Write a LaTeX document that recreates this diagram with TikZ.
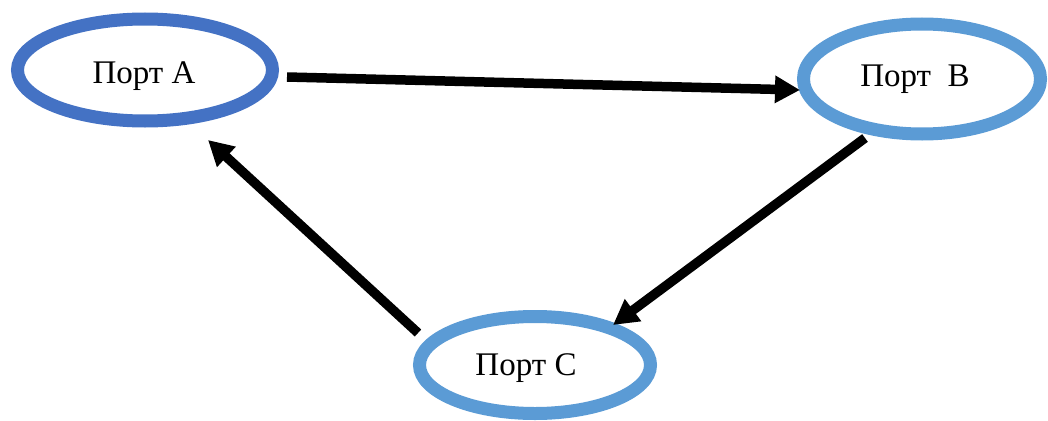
\documentclass[tikz,border=0pt]{standalone}
\usepackage{fontspec}
\setmainfont{Liberation Serif}
\usetikzlibrary{shapes.geometric,arrows.meta}
\definecolor{darkblue}{HTML}{4472C4}
\definecolor{lightblue}{HTML}{5B9BD5}
\tikzset{
  port/.style={ellipse, draw=#1, line width=13pt, inner sep=0pt, outer sep=0pt, fill=white},
  lbl/.style={font=\fontsize{33}{40}\selectfont, anchor=base, inner sep=0pt},
  conn/.style={line width=9.5pt, -{Triangle[length=25pt,width=26pt]}}
}
\begin{document}
\begin{tikzpicture}[x=1pt,y=-1pt]
\useasboundingbox (0,0) rectangle (1048,420);
\node[port=darkblue, minimum width=255pt, minimum height=102pt] (A) at (145,70) {};
\node[port=lightblue, minimum width=237pt, minimum height=110pt] (B) at (922,79) {};
\node[port=lightblue, minimum width=231pt, minimum height=97pt] (C) at (535,365) {};
\node[lbl] (tA) at (144,83) {Порт A};
\node[lbl] (tB) at (915,86) {Порт\ \ B};
\node[lbl] (tC) at (526,375) {Порт C};
\draw[conn] ([xshift=14.5pt,yshift=-7pt]A.east) -- ([xshift=-3.5pt,yshift=-11pt]B.west);
\draw[conn] ([xshift=-57pt,yshift=-4pt]B.south) -- ([xshift=78pt,yshift=-8.5pt]C.north);
\draw[conn] ([xshift=-1.5pt,yshift=32pt]C.west) -- ([xshift=63pt,yshift=-19pt]A.south);
\end{tikzpicture}
\end{document}
